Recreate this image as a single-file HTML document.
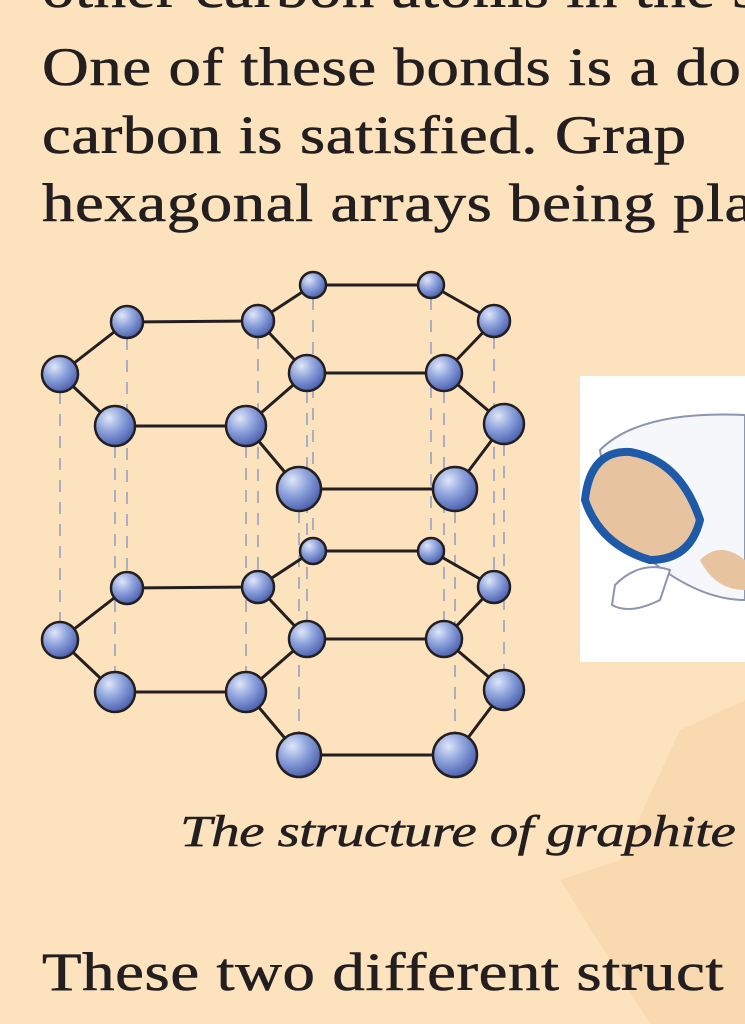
<!DOCTYPE html>
<html><head><meta charset="utf-8"><style>
html,body{margin:0;padding:0;}
body{width:745px;height:1024px;overflow:hidden;background:#fde3bd;position:relative;font-family:"Liberation Serif","DejaVu Serif",serif;color:#231f20;}
.t{position:absolute;left:42px;font-size:54px;white-space:nowrap;letter-spacing:0.5px;transform:scaleX(1.2);transform-origin:0 0;-webkit-text-stroke:0.6px #231f20;}
</style></head><body>
<svg width="745" height="1024" style="position:absolute;left:0;top:0">
<polygon points="680,730 745,700 745,1024 650,1024 560,880 620,860" fill="#f6d3a6" opacity="0.6"/>
</svg>
<div class="t" style="top:-42px">other carbon atoms in the s</div>
<div class="t" style="top:36px">One of these bonds is a do</div>
<div class="t" style="top:104px">carbon is satisfied. Grap</div>
<div class="t" style="top:172px">hexagonal arrays being pla</div>
<svg id="g" width="745" height="1024" style="position:absolute;left:0;top:0">
<defs><radialGradient id="b" cx="35%" cy="30%" r="70%"><stop offset="0" stop-color="#dfe6f8"/><stop offset="0.5" stop-color="#8da2dc"/><stop offset="1" stop-color="#4f64b0"/></radialGradient></defs>
<rect x="580" y="376" width="170" height="286" fill="#fff"/>
<path d="M600,450 Q640,410 745,415 L745,600 Q700,600 650,560 Q610,520 600,450Z" fill="#f6f7fb" stroke="#8c95b0" stroke-width="2"/>
<path d="M585,500 Q590,450 630,452 Q680,460 700,520 Q690,560 650,560 Q600,545 585,500Z" fill="#e8c3a0" stroke="#1e5aa8" stroke-width="8"/>
<path d="M700,560 Q720,540 745,560 L745,590 Q715,590 700,560Z" fill="#e8c3a0"/>
<path d="M615,585 Q640,560 670,570 L660,600 Q630,615 612,605Z" fill="#fff" stroke="#8c95b0" stroke-width="2"/>
<g id="mol"></g>
</svg>
<div style="position:absolute;left:180px;top:806px;font-size:44px;font-style:italic;white-space:nowrap;transform:scaleX(1.3);transform-origin:0 0;-webkit-text-stroke:0.5px #231f20;letter-spacing:-0.5px">The structure of graphite</div>
<div class="t" style="top:941px">These two different struct</div>
<script>
const atoms=[[313,285,13],[431,285,13],[127,322,16],[258,321,16],[494,321,16],[60,374,18],[307,373,18],[444,373,18],[115,426,20],[246,426,20],[504,424,20],[299,489,22],[455,489,22]];
const bonds=[[5,2],[2,3],[5,8],[8,9],[3,0],[0,1],[1,4],[4,7],[7,6],[6,3],[9,6],[6,7],[7,10],[10,12],[12,11],[11,9]];
const layerOffsets=[0,266];
const ns="http://www.w3.org/2000/svg";const m=document.getElementById('mol');
function mk(t,a){const e=document.createElementNS(ns,t);for(const k in a)e.setAttribute(k,a[k]);m.appendChild(e);return e;}
atoms.forEach(a=>{const l=mk('line',{x1:a[0],y1:a[1]+a[2],x2:a[0],y2:a[1]+266-a[2],stroke:'#a9aec0','stroke-width':2,'stroke-dasharray':'12,10'});

});
layerOffsets.forEach(dy=>{
bonds.forEach(b=>{const p=atoms[b[0]],q=atoms[b[1]];const l=mk('line',{x1:p[0],y1:p[1]+dy,x2:q[0],y2:q[1]+dy,stroke:'#231f20','stroke-width':3});

});
atoms.forEach(a=>{const c=mk('circle',{cx:a[0],cy:a[1]+dy,r:a[2],fill:'url(#b)',stroke:'#231f20','stroke-width':2.5});

});
});
</script>
</body></html>
